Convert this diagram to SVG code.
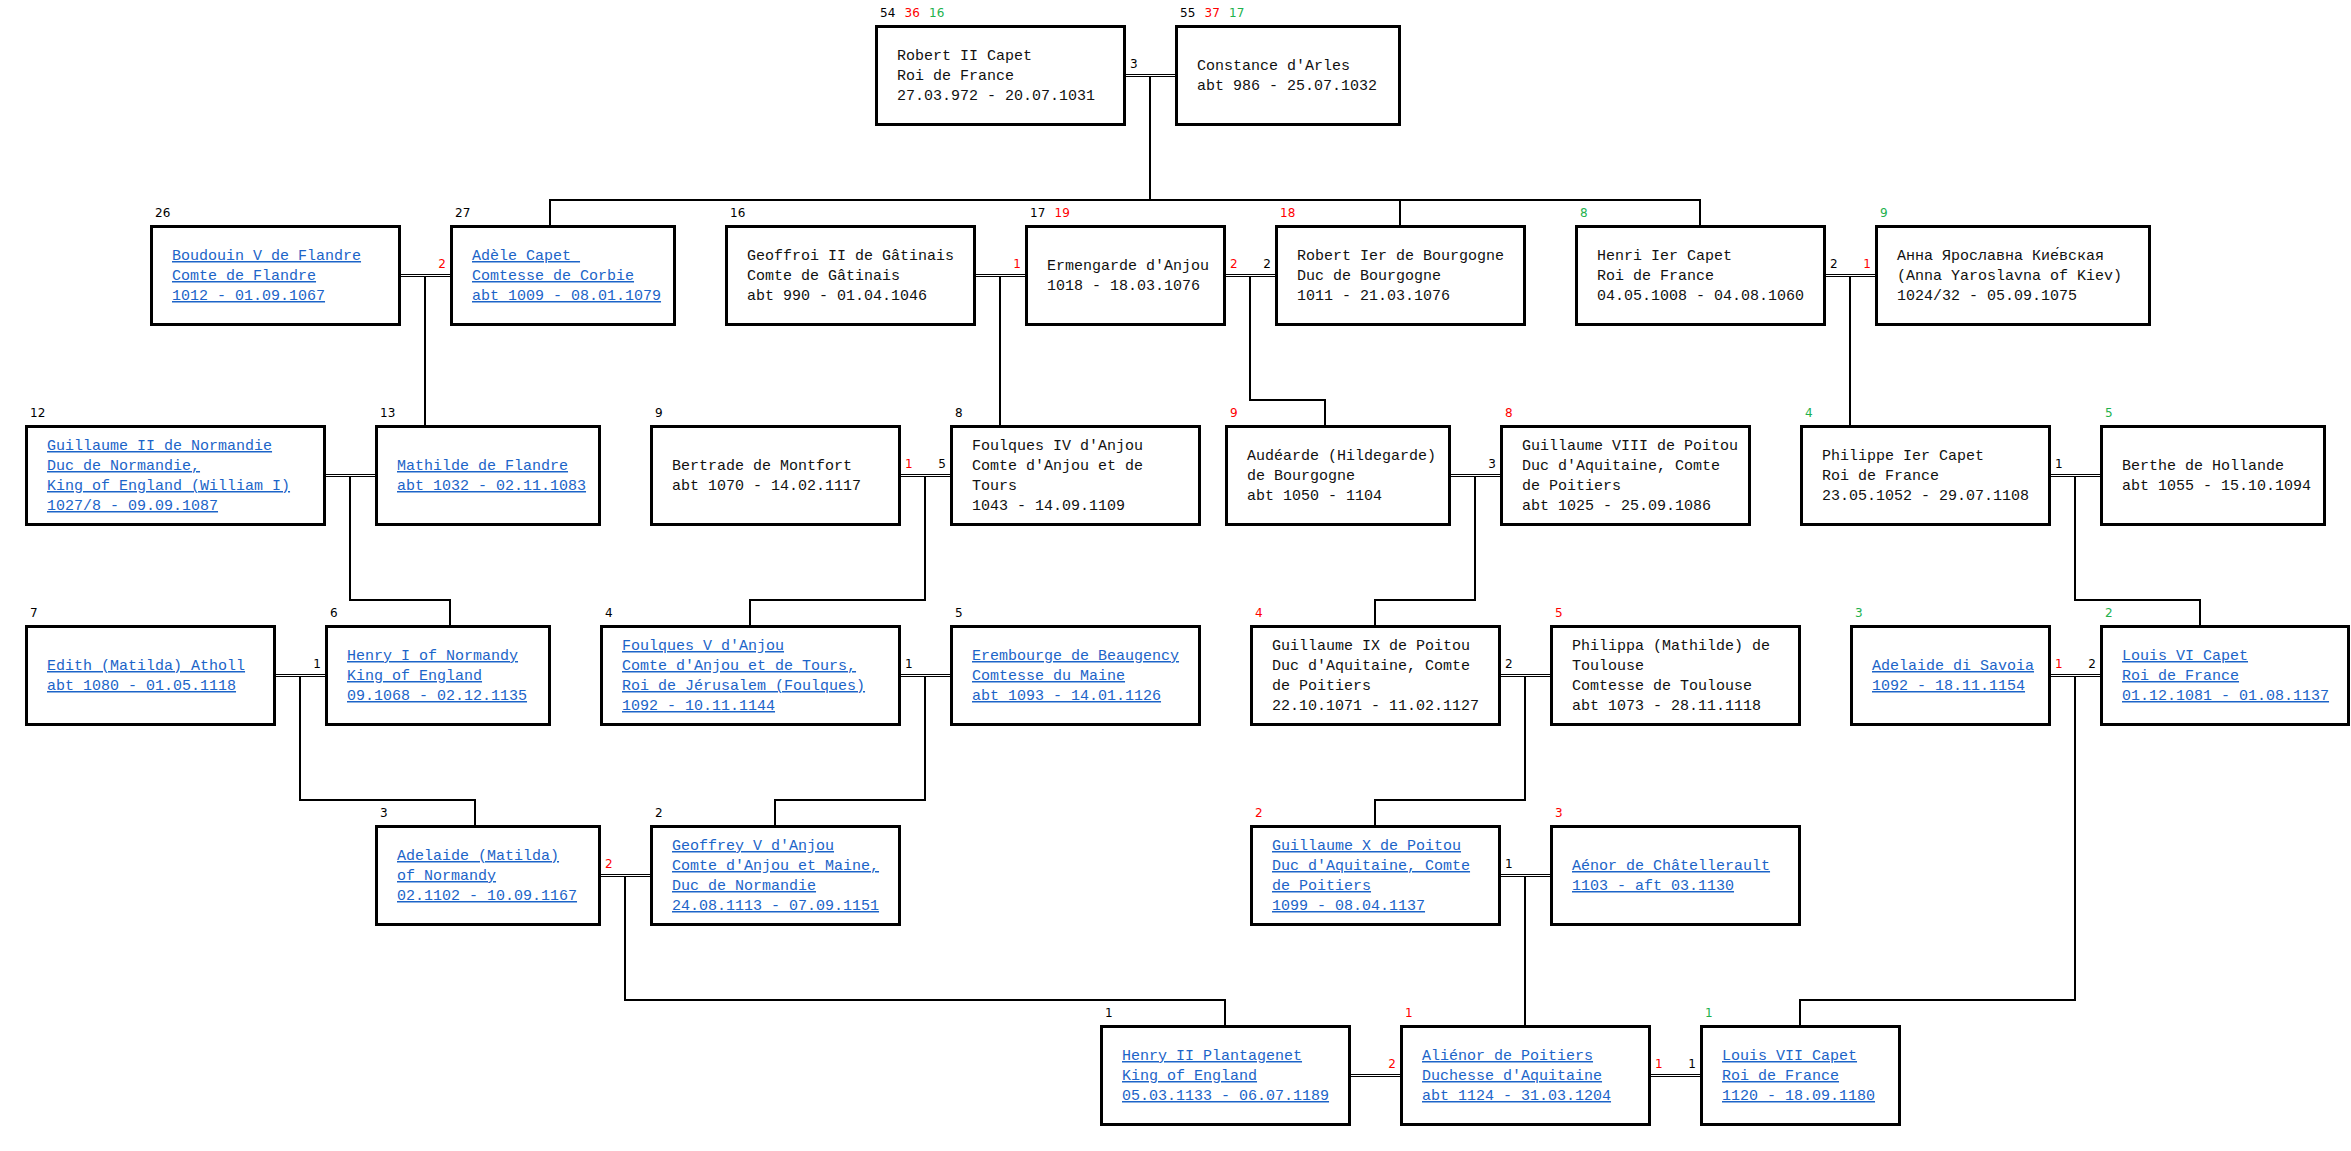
<svg xmlns="http://www.w3.org/2000/svg" width="2351" height="1151" viewBox="0 0 2351 1151">
<style>
.box{fill:#fff;stroke:#000;stroke-width:3}
.t{font-family:"Liberation Mono","Courier New",monospace;font-size:15px;fill:#111}
.l{fill:#1c64c8;text-decoration:underline}
.n{font-family:"DejaVu Sans",Verdana,sans-serif;font-size:12px}
.k{fill:#000}.r{fill:#ff0000}.g{fill:#22b14c}
.m{stroke:#000;stroke-width:1;fill:none}
.c{stroke:#000;stroke-width:2;fill:none;stroke-linecap:square}
</style>
<rect x="0" y="0" width="2351" height="1151" fill="#fff"/>

<g id="connectors">
  <g id="marriages" class="m">
    <path d="M1126 74.5H1175M1126 76.5H1175"/>
    <path d="M401 274.5H450M401 276.5H450"/>
    <path d="M976 274.5H1025M976 276.5H1025"/>
    <path d="M1226 274.5H1275M1226 276.5H1275"/>
    <path d="M1826 274.5H1875M1826 276.5H1875"/>
    <path d="M326 474.5H375M326 476.5H375"/>
    <path d="M901 474.5H950M901 476.5H950"/>
    <path d="M1451 474.5H1500M1451 476.5H1500"/>
    <path d="M2051 474.5H2100M2051 476.5H2100"/>
    <path d="M276 674.5H325M276 676.5H325"/>
    <path d="M901 674.5H950M901 676.5H950"/>
    <path d="M1501 674.5H1550M1501 676.5H1550"/>
    <path d="M2051 674.5H2100M2051 676.5H2100"/>
    <path d="M601 874.5H650M601 876.5H650"/>
    <path d="M1501 874.5H1550M1501 876.5H1550"/>
    <path d="M1351 1074.5H1400M1351 1076.5H1400"/>
    <path d="M1651 1074.5H1700M1651 1076.5H1700"/>
  </g>
  <g id="descent" class="c">
    <path d="M1150 78V200M550 200H1700M550 200V224M1400 200V224M1700 200V224"/>
    <path d="M425 278V424"/>
    <path d="M1000 278V424"/>
    <path d="M1250 278V400H1325V424"/>
    <path d="M1850 278V424"/>
    <path d="M350 478V600H450V624"/>
    <path d="M925 478V600H750V624"/>
    <path d="M1475 478V600H1375V624"/>
    <path d="M2075 478V600H2200V624"/>
    <path d="M300 678V800H475V824"/>
    <path d="M925 678V800H775V824"/>
    <path d="M1525 678V800H1375V824"/>
    <path d="M2075 678V1000H1800V1024"/>
    <path d="M625 878V1000H1225V1024"/>
    <path d="M1525 878V1024"/>
  </g>
  <g id="marriage-labels" class="n">
    <text x="1130" y="68" class="k">3</text>
    <text x="446" y="268" class="r" text-anchor="end">2</text>
    <text x="1021" y="268" class="r" text-anchor="end">1</text>
    <text x="1230" y="268" class="r">2</text>
    <text x="1271" y="268" class="k" text-anchor="end">2</text>
    <text x="1830" y="268" class="k">2</text>
    <text x="1871" y="268" class="r" text-anchor="end">1</text>
    <text x="905" y="468" class="r">1</text>
    <text x="946" y="468" class="k" text-anchor="end">5</text>
    <text x="1496" y="468" class="k" text-anchor="end">3</text>
    <text x="2055" y="468" class="k">1</text>
    <text x="321" y="668" class="k" text-anchor="end">1</text>
    <text x="905" y="668" class="k">1</text>
    <text x="1505" y="668" class="k">2</text>
    <text x="2055" y="668" class="r">1</text>
    <text x="2096" y="668" class="k" text-anchor="end">2</text>
    <text x="605" y="868" class="r">2</text>
    <text x="1505" y="868" class="k">1</text>
    <text x="1396" y="1068" class="r" text-anchor="end">2</text>
    <text x="1655" y="1068" class="r">1</text>
    <text x="1696" y="1068" class="k" text-anchor="end">1</text>
  </g>
</g>

<!-- Row 1 -->
<g id="robert-ii">
  <rect class="box" x="876.5" y="26.5" width="248" height="98"/>
  <text class="n" y="17"><tspan x="880" class="k">54</tspan><tspan x="904.5" class="r">36</tspan><tspan x="929" class="g">16</tspan></text>
  <text class="t"><tspan x="897" y="60">Robert II Capet</tspan><tspan x="897" y="80">Roi de France</tspan><tspan x="897" y="100">27.03.972 - 20.07.1031</tspan></text>
</g>
<g id="constance">
  <rect class="box" x="1176.5" y="26.5" width="223" height="98"/>
  <text class="n" y="17"><tspan x="1180" class="k">55</tspan><tspan x="1204.5" class="r">37</tspan><tspan x="1229" class="g">17</tspan></text>
  <text class="t"><tspan x="1197" y="70">Constance d'Arles</tspan><tspan x="1197" y="90">abt 986 - 25.07.1032</tspan></text>
</g>

<!-- Row 2 -->
<g id="boudouin">
  <rect class="box" x="151.5" y="226.5" width="248" height="98"/>
  <text class="n k" x="155" y="217">26</text>
  <text class="t l"><tspan x="172" y="260">Boudouin V de Flandre</tspan><tspan x="172" y="280">Comte de Flandre</tspan><tspan x="172" y="300">1012 - 01.09.1067</tspan></text>
</g>
<g id="adele">
  <rect class="box" x="451.5" y="226.5" width="223" height="98"/>
  <text class="n k" x="455" y="217">27</text>
  <text class="t l" style="white-space:pre"><tspan x="472" y="260">Adèle Capet </tspan><tspan x="472" y="280">Comtesse de Corbie</tspan><tspan x="472" y="300">abt 1009 - 08.01.1079</tspan></text>
</g>
<g id="geoffroi">
  <rect class="box" x="726.5" y="226.5" width="248" height="98"/>
  <text class="n k" x="730" y="217">16</text>
  <text class="t"><tspan x="747" y="260">Geoffroi II de Gâtinais</tspan><tspan x="747" y="280">Comte de Gâtinais</tspan><tspan x="747" y="300">abt 990 - 01.04.1046</tspan></text>
</g>
<g id="ermengarde">
  <rect class="box" x="1026.5" y="226.5" width="198" height="98"/>
  <text class="n" y="217"><tspan x="1030" class="k">17</tspan><tspan x="1054.5" class="r">19</tspan></text>
  <text class="t"><tspan x="1047" y="270">Ermengarde d'Anjou</tspan><tspan x="1047" y="290">1018 - 18.03.1076</tspan></text>
</g>
<g id="robert-ier">
  <rect class="box" x="1276.5" y="226.5" width="248" height="98"/>
  <text class="n r" x="1280" y="217">18</text>
  <text class="t"><tspan x="1297" y="260">Robert Ier de Bourgogne</tspan><tspan x="1297" y="280">Duc de Bourgogne</tspan><tspan x="1297" y="300">1011 - 21.03.1076</tspan></text>
</g>
<g id="henri-ier">
  <rect class="box" x="1576.5" y="226.5" width="248" height="98"/>
  <text class="n g" x="1580" y="217">8</text>
  <text class="t"><tspan x="1597" y="260">Henri Ier Capet</tspan><tspan x="1597" y="280">Roi de France</tspan><tspan x="1597" y="300">04.05.1008 - 04.08.1060</tspan></text>
</g>
<g id="anna">
  <rect class="box" x="1876.5" y="226.5" width="273" height="98"/>
  <text class="n g" x="1880" y="217">9</text>
  <text class="t"><tspan x="1897" y="260">Анна Ярославна Кие́вская</tspan><tspan x="1897" y="280">(Anna Yaroslavna of Kiev)</tspan><tspan x="1897" y="300">1024/32 - 05.09.1075</tspan></text>
</g>

<!-- Row 3 -->
<g id="guillaume-ii">
  <rect class="box" x="26.5" y="426.5" width="298" height="98"/>
  <text class="n k" x="30" y="417">12</text>
  <text class="t l"><tspan x="47" y="450">Guillaume II de Normandie</tspan><tspan x="47" y="470">Duc de Normandie,</tspan><tspan x="47" y="490">King of England (William I)</tspan><tspan x="47" y="510">1027/8 - 09.09.1087</tspan></text>
</g>
<g id="mathilde">
  <rect class="box" x="376.5" y="426.5" width="223" height="98"/>
  <text class="n k" x="380" y="417">13</text>
  <text class="t l"><tspan x="397" y="470">Mathilde de Flandre</tspan><tspan x="397" y="490">abt 1032 - 02.11.1083</tspan></text>
</g>
<g id="bertrade">
  <rect class="box" x="651.5" y="426.5" width="248" height="98"/>
  <text class="n k" x="655" y="417">9</text>
  <text class="t"><tspan x="672" y="470">Bertrade de Montfort</tspan><tspan x="672" y="490">abt 1070 - 14.02.1117</tspan></text>
</g>
<g id="foulques-iv">
  <rect class="box" x="951.5" y="426.5" width="248" height="98"/>
  <text class="n k" x="955" y="417">8</text>
  <text class="t"><tspan x="972" y="450">Foulques IV d'Anjou</tspan><tspan x="972" y="470">Comte d'Anjou et de</tspan><tspan x="972" y="490">Tours</tspan><tspan x="972" y="510">1043 - 14.09.1109</tspan></text>
</g>
<g id="audearde">
  <rect class="box" x="1226.5" y="426.5" width="223" height="98"/>
  <text class="n r" x="1230" y="417">9</text>
  <text class="t"><tspan x="1247" y="460">Audéarde (Hildegarde)</tspan><tspan x="1247" y="480">de Bourgogne</tspan><tspan x="1247" y="500">abt 1050 - 1104</tspan></text>
</g>
<g id="guillaume-viii">
  <rect class="box" x="1501.5" y="426.5" width="248" height="98"/>
  <text class="n r" x="1505" y="417">8</text>
  <text class="t"><tspan x="1522" y="450">Guillaume VIII de Poitou</tspan><tspan x="1522" y="470">Duc d'Aquitaine, Comte</tspan><tspan x="1522" y="490">de Poitiers</tspan><tspan x="1522" y="510">abt 1025 - 25.09.1086</tspan></text>
</g>
<g id="philippe-ier">
  <rect class="box" x="1801.5" y="426.5" width="248" height="98"/>
  <text class="n g" x="1805" y="417">4</text>
  <text class="t"><tspan x="1822" y="460">Philippe Ier Capet</tspan><tspan x="1822" y="480">Roi de France</tspan><tspan x="1822" y="500">23.05.1052 - 29.07.1108</tspan></text>
</g>
<g id="berthe">
  <rect class="box" x="2101.5" y="426.5" width="223" height="98"/>
  <text class="n g" x="2105" y="417">5</text>
  <text class="t"><tspan x="2122" y="470">Berthe de Hollande</tspan><tspan x="2122" y="490">abt 1055 - 15.10.1094</tspan></text>
</g>

<!-- Row 4 -->
<g id="edith">
  <rect class="box" x="26.5" y="626.5" width="248" height="98"/>
  <text class="n k" x="30" y="617">7</text>
  <text class="t l"><tspan x="47" y="670">Edith (Matilda) Atholl</tspan><tspan x="47" y="690">abt 1080 - 01.05.1118</tspan></text>
</g>
<g id="henry-i">
  <rect class="box" x="326.5" y="626.5" width="223" height="98"/>
  <text class="n k" x="330" y="617">6</text>
  <text class="t l"><tspan x="347" y="660">Henry I of Normandy</tspan><tspan x="347" y="680">King of England</tspan><tspan x="347" y="700">09.1068 - 02.12.1135</tspan></text>
</g>
<g id="foulques-v">
  <rect class="box" x="601.5" y="626.5" width="298" height="98"/>
  <text class="n k" x="605" y="617">4</text>
  <text class="t l"><tspan x="622" y="650">Foulques V d'Anjou</tspan><tspan x="622" y="670">Comte d'Anjou et de Tours,</tspan><tspan x="622" y="690">Roi de Jérusalem (Foulques)</tspan><tspan x="622" y="710">1092 - 10.11.1144</tspan></text>
</g>
<g id="erembourge">
  <rect class="box" x="951.5" y="626.5" width="248" height="98"/>
  <text class="n k" x="955" y="617">5</text>
  <text class="t l"><tspan x="972" y="660">Erembourge de Beaugency</tspan><tspan x="972" y="680">Comtesse du Maine</tspan><tspan x="972" y="700">abt 1093 - 14.01.1126</tspan></text>
</g>
<g id="guillaume-ix">
  <rect class="box" x="1251.5" y="626.5" width="248" height="98"/>
  <text class="n r" x="1255" y="617">4</text>
  <text class="t"><tspan x="1272" y="650">Guillaume IX de Poitou</tspan><tspan x="1272" y="670">Duc d'Aquitaine, Comte</tspan><tspan x="1272" y="690">de Poitiers</tspan><tspan x="1272" y="710">22.10.1071 - 11.02.1127</tspan></text>
</g>
<g id="philippa">
  <rect class="box" x="1551.5" y="626.5" width="248" height="98"/>
  <text class="n r" x="1555" y="617">5</text>
  <text class="t"><tspan x="1572" y="650">Philippa (Mathilde) de</tspan><tspan x="1572" y="670">Toulouse</tspan><tspan x="1572" y="690">Comtesse de Toulouse</tspan><tspan x="1572" y="710">abt 1073 - 28.11.1118</tspan></text>
</g>
<g id="adelaide-savoia">
  <rect class="box" x="1851.5" y="626.5" width="198" height="98"/>
  <text class="n g" x="1855" y="617">3</text>
  <text class="t l"><tspan x="1872" y="670">Adelaide di Savoia</tspan><tspan x="1872" y="690">1092 - 18.11.1154</tspan></text>
</g>
<g id="louis-vi">
  <rect class="box" x="2101.5" y="626.5" width="247" height="98"/>
  <text class="n g" x="2105" y="617">2</text>
  <text class="t l"><tspan x="2122" y="660">Louis VI Capet</tspan><tspan x="2122" y="680">Roi de France</tspan><tspan x="2122" y="700">01.12.1081 - 01.08.1137</tspan></text>
</g>

<!-- Row 5 -->
<g id="adelaide-normandy">
  <rect class="box" x="376.5" y="826.5" width="223" height="98"/>
  <text class="n k" x="380" y="817">3</text>
  <text class="t l"><tspan x="397" y="860">Adelaide (Matilda)</tspan><tspan x="397" y="880">of Normandy</tspan><tspan x="397" y="900">02.1102 - 10.09.1167</tspan></text>
</g>
<g id="geoffrey-v">
  <rect class="box" x="651.5" y="826.5" width="248" height="98"/>
  <text class="n k" x="655" y="817">2</text>
  <text class="t l"><tspan x="672" y="850">Geoffrey V d'Anjou</tspan><tspan x="672" y="870">Comte d'Anjou et Maine,</tspan><tspan x="672" y="890">Duc de Normandie</tspan><tspan x="672" y="910">24.08.1113 - 07.09.1151</tspan></text>
</g>
<g id="guillaume-x">
  <rect class="box" x="1251.5" y="826.5" width="248" height="98"/>
  <text class="n r" x="1255" y="817">2</text>
  <text class="t l"><tspan x="1272" y="850">Guillaume X de Poitou</tspan><tspan x="1272" y="870">Duc d'Aquitaine, Comte</tspan><tspan x="1272" y="890">de Poitiers</tspan><tspan x="1272" y="910">1099 - 08.04.1137</tspan></text>
</g>
<g id="aenor">
  <rect class="box" x="1551.5" y="826.5" width="248" height="98"/>
  <text class="n r" x="1555" y="817">3</text>
  <text class="t l"><tspan x="1572" y="870">Aénor de Châtellerault</tspan><tspan x="1572" y="890">1103 - aft 03.1130</tspan></text>
</g>

<!-- Row 6 -->
<g id="henry-ii">
  <rect class="box" x="1101.5" y="1026.5" width="248" height="98"/>
  <text class="n k" x="1105" y="1017">1</text>
  <text class="t l"><tspan x="1122" y="1060">Henry II Plantagenet</tspan><tspan x="1122" y="1080">King of England</tspan><tspan x="1122" y="1100">05.03.1133 - 06.07.1189</tspan></text>
</g>
<g id="alienor">
  <rect class="box" x="1401.5" y="1026.5" width="248" height="98"/>
  <text class="n r" x="1405" y="1017">1</text>
  <text class="t l"><tspan x="1422" y="1060">Aliénor de Poitiers</tspan><tspan x="1422" y="1080">Duchesse d'Aquitaine</tspan><tspan x="1422" y="1100">abt 1124 - 31.03.1204</tspan></text>
</g>
<g id="louis-vii">
  <rect class="box" x="1701.5" y="1026.5" width="198" height="98"/>
  <text class="n g" x="1705" y="1017">1</text>
  <text class="t l"><tspan x="1722" y="1060">Louis VII Capet</tspan><tspan x="1722" y="1080">Roi de France</tspan><tspan x="1722" y="1100">1120 - 18.09.1180</tspan></text>
</g>
</svg>
